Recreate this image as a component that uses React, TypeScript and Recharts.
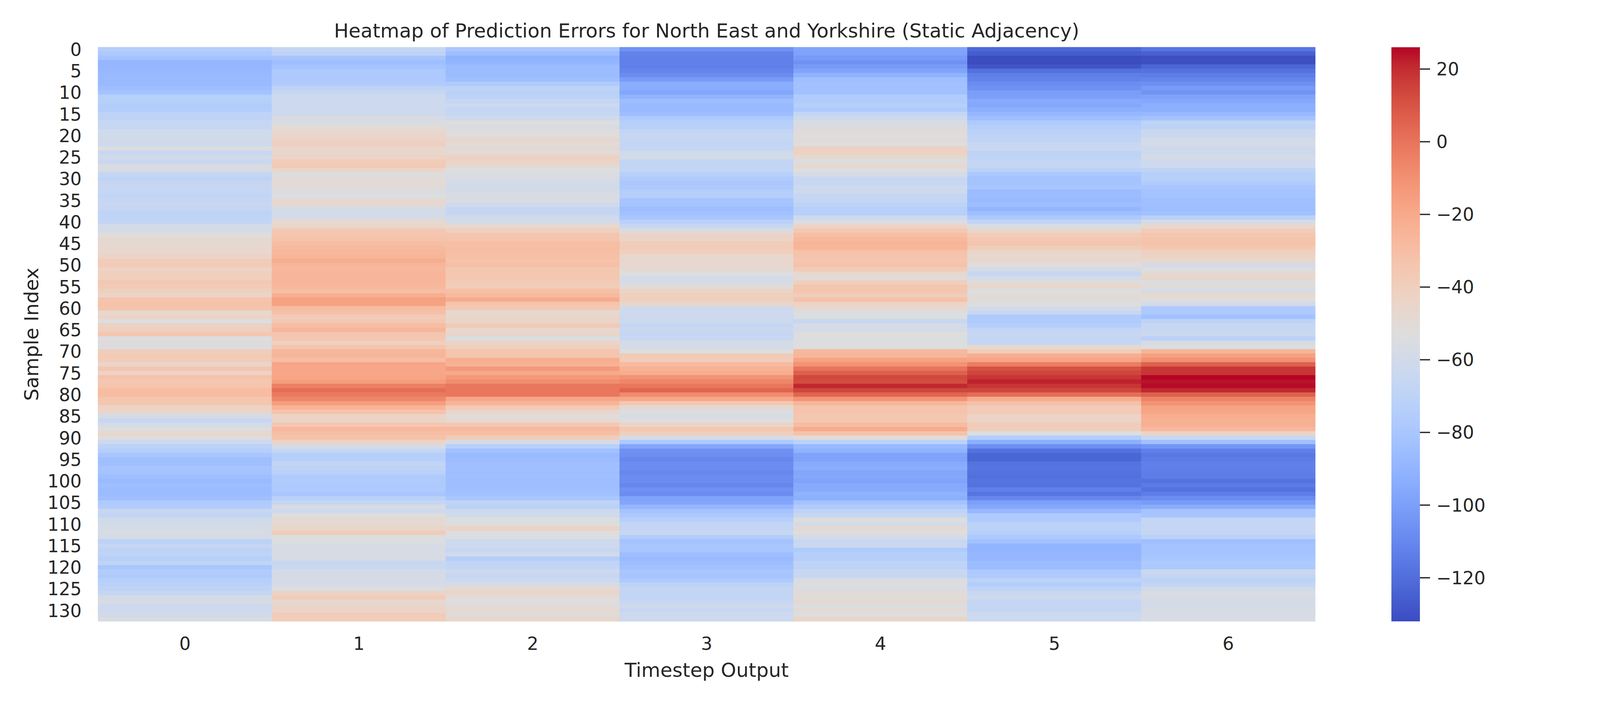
import { BarChart, Bar, XAxis, YAxis, Cell } from "recharts";

// prediction error per sample (rows 0..132) for each output timestep
const step0 = [
  -74, -78, -82, -89, -89, -88, -87, -87, -87, -85, -82, -73, -73, -75, -75, -70, -70, -65, -67, -61, -61, -60,
  -62, -54, -65, -60, -64, -57, -57, -67, -70, -66, -65, -67, -68, -66, -65, -66, -70, -69, -68, -59, -58, -52,
  -48,
  -48, -47, -47, -43, -39, -37, -43, -40, -40, -36, -37, -41, -44, -33, -32, -33, -47, -43, -54, -42, -40, -35,
  -54, -51, -55, -39, -37, -38, -45, -34, -43, -32, -36, -33, -29, -29, -34, -35, -43, -45, -58, -65, -59, -53,
  -47, -52, -63, -71, -74, -80, -84, -84, -81, -82, -85, -87, -85, -86, -86, -84, -77, -75, -65, -68, -60, -60,
  -58, -57, -58, -71, -66, -71, -70, -73, -69, -80, -75, -77, -73, -72, -70, -66, -59, -57, -63, -62, -60, -56,
];
const step1 = [
  -66, -70, -81, -85, -82, -78, -78, -78, -76, -70, -65, -63, -63, -63, -62, -62, -56, -56, -50, -47, -45, -44,
  -40, -47, -45, -44, -38, -37, -45, -53, -50, -50, -50, -55, -54, -48, -48, -58, -59, -58, -47, -45, -36, -34,
  -32,
  -30, -28, -27, -26, -22, -26, -27, -26, -26, -26, -27, -30, -22, -16, -17, -29, -31, -38, -35, -30, -26, -34,
  -35, -40, -34, -26, -26, -30, -18, -19, -19, -18, -15, -4, 2, -2, -6, -15, -25, -32, -43, -44, -35, -27,
  -30, -32, -43, -58, -67, -74, -73, -68, -70, -72, -77, -77, -78, -77, -80, -72, -67, -57, -62, -53, -48, -48,
  -45, -38, -54, -54, -57, -57, -57, -57, -65, -64, -58, -58, -58, -58, -54, -43, -38, -47, -45, -44, -38, -39,
];
const step2 = [
  -79, -85, -91, -90, -86, -86, -86, -84, -77, -70, -72, -71, -66, -63, -67, -65, -62, -53, -56, -52, -52, -46,
  -51, -49, -50, -42, -43, -48, -54, -55, -57, -59, -60, -58, -56, -56, -61, -66, -66, -61, -58, -47, -41, -34,
  -33,
  -30, -30, -30, -31, -32, -31, -35, -35, -35, -37, -38, -31, -28, -21, -33, -36, -48, -45, -45, -37, -47, -45,
  -54, -44, -40, -33, -34, -22, -24, -13, -20, -13, -9, -1, -1, -1, -18, -25, -37, -45, -51, -48, -35, -27,
  -31, -38, -58, -73, -83, -87, -86, -84, -84, -85, -84, -85, -85, -84, -83, -80, -69, -72, -62, -61, -54, -54,
  -43, -53, -54, -63, -62, -65, -60, -74, -69, -68, -62, -66, -63, -58, -48, -45, -52, -52, -51, -48, -51, -46,
];
const step3 = [
  -106, -112, -113, -113, -113, -111, -108, -102, -94, -94, -97, -91, -85, -87, -87, -85, -77, -73, -73, -68, -65, -67,
  -67, -67, -61, -59, -68, -68, -68, -73, -76, -79, -78, -74, -74, -81, -82, -85, -83, -80, -72, -65, -56, -44,
  -44,
  -38, -38, -40, -47, -47, -47, -49, -53, -58, -58, -51, -43, -40, -41, -45, -62, -62, -63, -63, -66, -64, -66,
  -65, -59, -58, -54, -37, -38, -28, -24, -22, -11, -6, -1, 5, -8, -19, -35, -49, -54, -57, -54, -44, -35,
  -40, -58, -78, -97, -106, -107, -110, -108, -108, -110, -108, -108, -110, -106, -108, -99, -97, -89, -82, -78, -73, -68,
  -68, -65, -75, -82, -80, -80, -85, -87, -85, -83, -80, -81, -78, -71, -67, -68, -68, -65, -62, -65, -63, -63,
];
const step4 = [
  -98, -99, -102, -106, -102, -98, -91, -84, -83, -83, -83, -76, -76, -73, -77, -67, -63, -56, -56, -50, -53, -51,
  -53, -42, -42, -48, -54, -47, -54, -58, -65, -65, -62, -62, -67, -67, -70, -73, -73, -62, -55, -43, -36, -30,
  -27,
  -25, -26, -32, -33, -34, -32, -38, -47, -51, -40, -34, -34, -39, -32, -43, -47, -54, -54, -65, -58, -59, -53,
  -54, -54, -53, -27, -26, -17, -11, 0, 6, 13, 12, 21, 14, 5, -11, -26, -33, -33, -35, -35, -29, -21,
  -32, -51, -72, -87, -91, -98, -99, -95, -94, -97, -96, -98, -95, -95, -91, -93, -82, -76, -70, -65, -53, -59,
  -48, -53, -58, -65, -64, -77, -73, -74, -70, -70, -65, -65, -55, -54, -55, -51, -51, -48, -54, -50, -53, -45,
];
const step5 = [
  -122, -126, -132, -132, -129, -119, -113, -112, -108, -106, -101, -100, -95, -96, -93, -88, -84, -77, -74, -72, -70, -70,
  -65, -64, -70, -70, -67, -67, -72, -79, -82, -82, -80, -86, -86, -87, -85, -89, -84, -78, -68, -56, -46, -38,
  -35,
  -34, -39, -45, -47, -47, -52, -59, -65, -59, -51, -45, -54, -50, -51, -53, -59, -65, -77, -77, -74, -68, -65,
  -66, -67, -48, -38, -22, -18, -3, 11, 14, 18, 22, 18, 14, 2, -21, -31, -39, -37, -44, -43, -39, -39,
  -54, -75, -93, -107, -118, -123, -123, -118, -117, -118, -119, -117, -118, -113, -117, -110, -100, -96, -88, -77, -77, -72,
  -71, -73, -78, -83, -90, -90, -89, -89, -86, -86, -78, -77, -71, -75, -70, -65, -62, -67, -67, -67, -63, -63,
];
const step6 = [
  -117, -125, -131, -131, -123, -118, -114, -111, -107, -102, -105, -99, -96, -93, -93, -88, -82, -70, -71, -64, -64, -59,
  -58, -62, -62, -58, -62, -62, -70, -73, -73, -76, -80, -82, -82, -84, -84, -85, -83, -72, -58, -47, -38, -34,
  -33,
  -32, -36, -41, -43, -47, -58, -54, -49, -45, -54, -51, -58, -47, -53, -59, -77, -78, -83, -70, -65, -65, -64,
  -72, -57, -54, -25, -16, -10, 6, 18, 18, 26, 24, 25, 21, 6, -5, -11, -17, -18, -22, -23, -23, -27,
  -43, -65, -84, -104, -113, -116, -115, -113, -113, -114, -114, -118, -115, -118, -114, -108, -102, -94, -81, -81, -67, -67,
  -67, -67, -72, -84, -82, -82, -82, -80, -77, -78, -64, -66, -71, -67, -61, -55, -58, -58, -59, -57, -57, -56,
];

const steps = [step0, step1, step2, step3, step4, step5, step6];
const stepTicks = [0.5, 1.5, 2.5, 3.5, 4.5, 5.5, 6.5];
const colorbarTicks = [20, 0, -20, -40, -60, -80, -100, -120];

// matplotlib "coolwarm" (Moreland diverging map), 33 evenly spaced stops
const COOLWARM = [
  [59, 76, 192], [68, 90, 204], [77, 104, 215], [87, 117, 225], [98, 130, 234],
  [108, 142, 241], [119, 154, 247], [130, 165, 251], [141, 176, 254], [152, 185, 255],
  [163, 194, 255], [174, 201, 253], [184, 208, 249], [194, 213, 244], [204, 217, 238],
  [213, 219, 230], [221, 221, 221], [229, 216, 209], [236, 211, 197], [241, 204, 184],
  [245, 196, 173], [247, 187, 160], [247, 177, 148], [247, 166, 135], [244, 154, 123],
  [241, 141, 111], [236, 127, 99], [229, 112, 88], [222, 96, 77], [213, 80, 66],
  [203, 62, 56], [192, 40, 47], [180, 4, 38],
];

function coolwarm(t: number) {
  const x = Math.max(0, Math.min(1, t)) * (COOLWARM.length - 1);
  const i = Math.min(Math.floor(x), COOLWARM.length - 2);
  const f = x - i;
  const a = COOLWARM[i];
  const b = COOLWARM[i + 1];
  const c = a.map((v, k) => Math.round(v + (b[k] - v) * f));
  return `rgb(${c[0]},${c[1]},${c[2]})`;
}

const allValues = steps.flat();
const vmin = Math.min(...allValues);
const vmax = Math.max(...allValues);
const colorOf = (v: number) => coolwarm((v - vmin) / (vmax - vmin));

const rows = step0.map((_, i) => {
  const r: Record<string, string | number> = { name: String(i) };
  steps.forEach((_, j) => (r[`s${j}`] = 1));
  return r;
});

const INK = "#262626";
const FONT = "'DejaVu Sans', sans-serif";
const TICK = 45.8;
const LABEL = 50;

const fmtMinus = (v: number) => (v < 0 ? `\u2212${Math.abs(v)}` : String(v));

function Heatmap() {
  return (
    <BarChart
      width={3400}
      height={1800}
      data={rows}
      layout="vertical"
      barCategoryGap={0}
      barGap={0}
      margin={{ top: 121, right: 33, bottom: 109, left: 0 }}
    >
      <XAxis
        type="number"
        domain={[0, 7]}
        ticks={stepTicks}
        tickFormatter={(v: number) => String(v - 0.5)}
        axisLine={false}
        tickLine={false}
        tickSize={0}
        tickMargin={40}
        height={100}
        tick={{ fill: INK, fontSize: TICK, fontFamily: FONT }}
      />
      <YAxis
        type="category"
        dataKey="name"
        width={251}
        interval={0}
        axisLine={false}
        tickLine={false}
        tickSize={0}
        tickMargin={42}
        tickFormatter={(v: string) => (Number(v) % 5 === 0 ? v : "")}
        tick={{ fill: INK, fontSize: TICK, fontFamily: FONT }}
      />
      {steps.map((s, j) => (
        <Bar key={j} dataKey={`s${j}`} stackId="heat" isAnimationActive={false}>
          {s.map((v, i) => (
            <Cell key={i} fill={colorOf(v)} stroke={colorOf(v)} strokeWidth={1} />
          ))}
        </Bar>
      ))}
    </BarChart>
  );
}

function Colorbar() {
  const stops = COOLWARM.map((_, k) => k / (COOLWARM.length - 1));
  return (
    <BarChart
      width={400}
      height={1800}
      data={[{ name: "cb", range: [vmin, vmax] }]}
      barCategoryGap={0}
      margin={{ top: 121, right: 0, bottom: 209, left: 0 }}
    >
      <defs>
        <linearGradient id="cbGrad" x1="0" y1="0" x2="0" y2="1">
          {stops.map((o) => (
            <stop key={o} offset={o} stopColor={coolwarm(1 - o)} />
          ))}
        </linearGradient>
      </defs>
      <XAxis dataKey="name" hide />
      <YAxis
        orientation="right"
        type="number"
        domain={[vmin, vmax]}
        ticks={colorbarTicks}
        width={327}
        axisLine={false}
        tickSize={26}
        tickMargin={16}
        tickLine={{ stroke: INK, strokeWidth: 3.3 }}
        tickFormatter={fmtMinus}
        tick={{ fill: INK, fontSize: TICK, fontFamily: FONT }}
      />
      <Bar dataKey="range" fill="url(#cbGrad)" isAnimationActive={false} />
    </BarChart>
  );
}

export default function App() {
  const text = { position: "absolute" as const, fontFamily: FONT, color: INK, fontSize: LABEL, lineHeight: "50px", whiteSpace: "nowrap" as const };
  return (
    <div style={{ position: "absolute", left: 0, top: 0, width: 4200, height: 1800, background: "#fff", overflow: "hidden" }}>
      <div style={{ position: "absolute", left: 0, top: 0 }}>
        <Heatmap />
      </div>
      <div style={{ position: "absolute", left: 3562, top: 0 }}>
        <Colorbar />
      </div>
      <div style={{ ...text, left: 251, width: 3116, top: 54, textAlign: "center" }}>
        Heatmap of Prediction Errors for North East and Yorkshire (Static Adjacency)
      </div>
      <div style={{ ...text, left: 251, width: 3116, top: 1691, textAlign: "center" }}>Timestep Output</div>
      <div
        style={{
          ...text,
          left: 81,
          top: 856,
          width: 600,
          textAlign: "center",
          transform: "translate(-50%, -50%) rotate(-90deg)",
        }}
      >
        Sample Index
      </div>
    </div>
  );
}
